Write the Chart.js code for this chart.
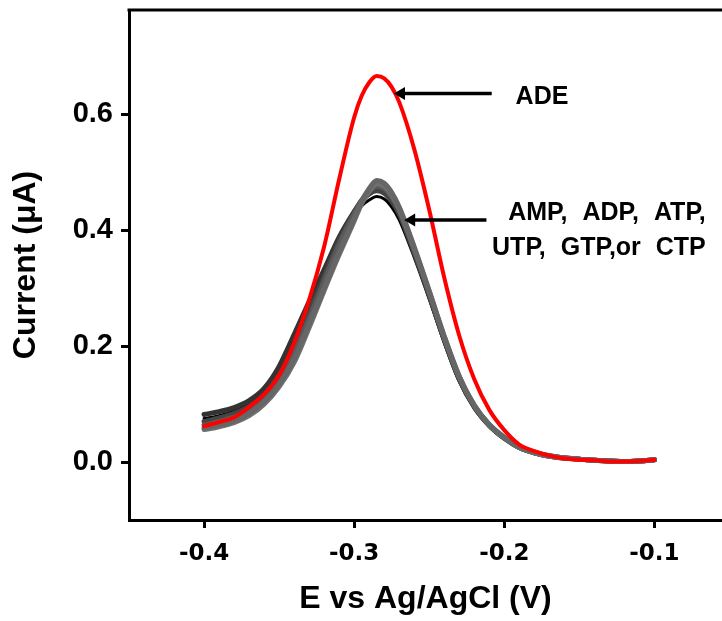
<!DOCTYPE html>
<html>
<head>
<meta charset="utf-8">
<script src="https://cdn.jsdelivr.net/npm/chart.js@4.4.0/dist/chart.umd.min.js"></script>
<style>
  html, body { margin: 0; padding: 0; background: #fff; }
</style>
</head>
<body>
<canvas id="dpv" width="722" height="621"></canvas>
<script>
/* DPV response: ADE vs nucleotides. */

// potential, V vs Ag/AgCl
const E = [-0.4, -0.39, -0.38, -0.37, -0.36, -0.35, -0.34, -0.33, -0.32, -0.31, -0.3,
  -0.295, -0.29, -0.285, -0.28, -0.275, -0.27, -0.26, -0.25, -0.24, -0.23, -0.22,
  -0.21, -0.2, -0.19, -0.18, -0.17, -0.16, -0.15, -0.14, -0.13, -0.12, -0.11, -0.1];

// current, uA
const ADE = [0.062, 0.069, 0.077, 0.095, 0.117, 0.150, 0.206, 0.280, 0.372, 0.488, 0.595,
  0.632, 0.655, 0.666, 0.662, 0.647, 0.621, 0.540, 0.435, 0.318, 0.218, 0.143,
  0.090, 0.055, 0.030, 0.019, 0.011, 0.006, 0.004, 0.003, 0.001, 0.001, 0.002, 0.004];
const AMP = [0.075, 0.080, 0.088, 0.100, 0.121, 0.156, 0.206, 0.266, 0.326, 0.384, 0.426,
  0.442, 0.452, 0.458, 0.454, 0.440, 0.418, 0.353, 0.281, 0.206, 0.139, 0.093,
  0.061, 0.040, 0.024, 0.015, 0.010, 0.007, 0.005, 0.003, 0.002, 0.001, 0.002, 0.004];
const ADP = [0.082, 0.087, 0.094, 0.106, 0.127, 0.165, 0.220, 0.277, 0.332, 0.388, 0.432,
  0.451, 0.463, 0.470, 0.466, 0.452, 0.430, 0.362, 0.288, 0.211, 0.143, 0.095,
  0.063, 0.041, 0.025, 0.016, 0.011, 0.007, 0.005, 0.003, 0.002, 0.001, 0.002, 0.004];
const ATP = [0.070, 0.076, 0.084, 0.096, 0.116, 0.150, 0.198, 0.258, 0.320, 0.382, 0.430,
  0.451, 0.463, 0.468, 0.464, 0.450, 0.428, 0.361, 0.288, 0.211, 0.143, 0.095,
  0.063, 0.041, 0.025, 0.016, 0.010, 0.007, 0.005, 0.003, 0.002, 0.001, 0.002, 0.004];
const UTP = [0.064, 0.070, 0.078, 0.090, 0.110, 0.142, 0.188, 0.248, 0.312, 0.375, 0.428,
  0.452, 0.467, 0.476, 0.472, 0.457, 0.434, 0.366, 0.292, 0.214, 0.146, 0.097,
  0.064, 0.042, 0.025, 0.016, 0.010, 0.007, 0.005, 0.003, 0.002, 0.001, 0.002, 0.004];
const GTP = [0.059, 0.064, 0.071, 0.084, 0.104, 0.134, 0.178, 0.238, 0.300, 0.362, 0.420,
  0.450, 0.472, 0.486, 0.481, 0.465, 0.440, 0.371, 0.295, 0.217, 0.148, 0.098,
  0.065, 0.043, 0.026, 0.017, 0.011, 0.007, 0.005, 0.003, 0.002, 0.001, 0.002, 0.004];
const CTP = [0.056, 0.061, 0.068, 0.080, 0.100, 0.130, 0.172, 0.232, 0.296, 0.358, 0.416,
  0.446, 0.467, 0.480, 0.476, 0.461, 0.437, 0.369, 0.294, 0.216, 0.147, 0.098,
  0.064, 0.042, 0.025, 0.016, 0.010, 0.007, 0.005, 0.003, 0.002, 0.001, 0.002, 0.004];

const X_TICKS = [-0.4, -0.3, -0.2, -0.1];
const Y_TICKS = [0, 0.2, 0.4, 0.6];

const FONT = '"Liberation Sans", Arial, Helvetica, sans-serif';
Chart.defaults.font.family = FONT;
Chart.defaults.font.weight = 'bold';
Chart.defaults.color = '#000';

const pts = (ys) => E.map((x, i) => ({ x, y: ys[i] }));
const trace = (label, ys, colour, width) => ({
  label, data: pts(ys), borderColor: colour, borderWidth: width,
  borderCapStyle: 'round', borderJoinStyle: 'round',
  pointRadius: 0, fill: false, cubicInterpolationMode: 'monotone',
});

// arrows + labels, in data units
const NOTES = [
  { tip: [-0.2735, 0.636], tailX: -0.2084, textX: -0.1925, align: 'left', lines: [['ADE', 0.617]] },
  { tip: [-0.2667, 0.4175], tailX: -0.2119, textX: -0.0658, align: 'right',
    lines: [['AMP, ADP, ATP,', 0.417], ['UTP, GTP,or CTP', 0.357]] },
];

const frameAndNotes = {
  id: 'frameAndNotes',
  afterDatasetsDraw(chart) {
    const { ctx, chartArea: a, scales: { x, y } } = chart;
    ctx.save();
    ctx.strokeStyle = '#000';
    ctx.fillStyle = '#000';
    ctx.lineWidth = 3;
    ctx.beginPath();
    ctx.moveTo(a.left - 1.5, a.top);
    ctx.lineTo(a.right + 2, a.top);
    ctx.stroke();

    NOTES.forEach(n => {
      const tx = x.getPixelForValue(n.tip[0]);
      const ty = y.getPixelForValue(n.tip[1]);
      const ex = x.getPixelForValue(n.tailX);
      ctx.lineWidth = 3.5;
      ctx.beginPath();
      ctx.moveTo(ex, ty);
      ctx.lineTo(tx + 8, ty);
      ctx.stroke();
      ctx.beginPath();
      ctx.moveTo(tx, ty);
      ctx.lineTo(tx + 11, ty - 6.5);
      ctx.lineTo(tx + 11, ty + 6.5);
      ctx.closePath();
      ctx.fill();

      ctx.font = 'bold 25px ' + FONT;
      ctx.wordSpacing = '8px';
      ctx.textAlign = n.align;
      ctx.textBaseline = 'alphabetic';
      const lx = x.getPixelForValue(n.textX);
      n.lines.forEach(([t, v]) => ctx.fillText(t, lx, y.getPixelForValue(v)));
    });
    ctx.restore();
  },
};

new Chart(document.getElementById('dpv'), {
  type: 'line',
  data: {
    // first dataset is painted last (on top)
    datasets: [
      trace('ADE', ADE, '#ff0000', 4),
      trace('GTP', GTP, '#666666', 5),
      trace('CTP', CTP, '#707070', 5),
      trace('UTP', UTP, '#5a5a5a', 5),
      trace('ATP', ATP, '#444444', 5),
      trace('ADP', ADP, '#333333', 5),
      trace('AMP', AMP, '#000000', 3),
    ],
  },
  options: {
    responsive: false,
    animation: false,
    layout: { padding: { top: 10, left: 0, right: 0, bottom: 0 } },
    plugins: { legend: { display: false }, tooltip: { enabled: false } },
    scales: {
      x: {
        type: 'linear', min: -0.45, max: -0.055,
        afterBuildTicks: s => { s.ticks = X_TICKS.map(value => ({ value })); },
        afterFit: s => { s.height = 101; s.paddingLeft = 0; s.paddingRight = 0; },
        grid: { drawOnChartArea: false, drawTicks: true, tickLength: 8, tickWidth: 3, tickColor: '#000' },
        border: { display: true, color: '#000', width: 3 },
        ticks: {
          color: '#000', autoSkip: false, maxRotation: 0, padding: 12,
          font: { family: '"DejaVu Sans", sans-serif', size: 23, weight: 'bold' },
          callback: v => v.toFixed(1),
        },
        title: {
          display: true, text: 'E vs Ag/AgCl (V)', color: '#000',
          font: { size: 32, weight: 'bold' }, padding: { top: 0, bottom: 3 },
        },
      },
      y: {
        min: -0.1, max: 0.78,
        afterBuildTicks: s => { s.ticks = Y_TICKS.map(value => ({ value })); },
        afterFit: s => { s.width = 129; s.paddingTop = 0; s.paddingBottom = 0; },
        grid: { drawOnChartArea: false, drawTicks: true, tickLength: 8, tickWidth: 3, tickColor: '#000' },
        border: { display: true, color: '#000', width: 3 },
        ticks: {
          color: '#000', autoSkip: false, padding: 8,
          font: { size: 29, weight: 'bold' },
          callback: v => v.toFixed(1),
        },
        title: {
          display: true, text: 'Current (\u03bcA)', color: '#000',
          font: { size: 32, weight: 'bold' }, padding: { top: 7, bottom: 0 },
        },
      },
    },
  },
  plugins: [frameAndNotes],
});
</script>
</body>
</html>
